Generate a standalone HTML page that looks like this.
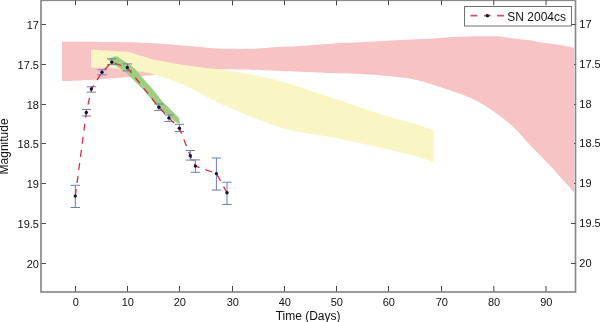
<!DOCTYPE html><html><head><meta charset="utf-8"><style>html,body{margin:0;padding:0;background:#fff;}svg{display:block;}text{font-family:"Liberation Sans",Arial,Helvetica,sans-serif;fill:#111;}</style></head><body>
<svg width="600" height="322" viewBox="0 0 600 322">
<rect width="600" height="322" fill="#fff"/>
<rect x="41.0" y="0.3" width="534.5" height="291.7" fill="none" stroke="#8a8a8a" stroke-width="1.7"/>
<path d="M75.5 291.5v-5.5M75.5 0.3v5M127.5 291.5v-5.5M127.5 0.3v5M179.5 291.5v-5.5M179.5 0.3v5M232.5 291.5v-5.5M232.5 0.3v5M284.5 291.5v-5.5M284.5 0.3v5M336.5 291.5v-5.5M336.5 0.3v5M388.5 291.5v-5.5M388.5 0.3v5M441.5 291.5v-5.5M441.5 0.3v5M493.8 291.5v-5.5M493.8 0.3v5M546.0 291.5v-5.5M546.0 0.3v5M41.5 24.5h4.5M575.5 24.5h-4.5M41.5 64.5h4.5M575.5 64.5h-4.5M41.5 104.5h4.5M575.5 104.5h-4.5M41.5 143.5h4.5M575.5 143.5h-4.5M41.5 183.5h4.5M575.5 183.5h-4.5M41.5 223.5h4.5M575.5 223.5h-4.5M41.5 263.5h4.5M575.5 263.5h-4.5" stroke="#484848" stroke-width="1" fill="none"/>
<path d="M62.00,41.80C68.33,41.82 88.67,41.83 100.00,41.90C111.33,41.97 120.83,41.97 130.00,42.20C139.17,42.43 146.67,42.80 155.00,43.30C163.33,43.80 172.50,44.58 180.00,45.20C187.50,45.82 193.33,46.43 200.00,47.00C206.67,47.57 211.67,48.30 220.00,48.60C228.33,48.90 240.00,49.07 250.00,48.80C260.00,48.53 271.67,47.47 280.00,47.00C288.33,46.53 293.33,46.43 300.00,46.00C306.67,45.57 313.33,44.90 320.00,44.40C326.67,43.90 333.33,43.37 340.00,43.00C346.67,42.63 350.00,42.70 360.00,42.20C370.00,41.70 388.33,40.58 400.00,40.00C411.67,39.42 420.83,39.20 430.00,38.70C439.17,38.20 446.67,37.40 455.00,37.00C463.33,36.60 473.00,36.42 480.00,36.30C487.00,36.18 492.83,36.13 497.00,36.30C501.17,36.47 499.50,36.63 505.00,37.30C510.50,37.97 524.17,39.47 530.00,40.30C535.83,41.13 535.00,41.50 540.00,42.30C545.00,43.10 554.33,44.17 560.00,45.10C565.67,46.03 571.67,47.43 574.00,47.90L574.00,192.20C572.50,190.53 569.33,187.00 565.00,182.20C560.67,177.40 553.67,169.38 548.00,163.40C542.33,157.42 536.67,152.28 531.00,146.30C525.33,140.32 519.67,132.90 514.00,127.50C508.33,122.10 502.67,118.02 497.00,113.90C491.33,109.78 485.62,105.95 480.00,102.80C474.38,99.65 468.85,97.27 463.30,95.00C457.75,92.73 452.25,91.08 446.70,89.20C441.15,87.32 435.57,85.37 430.00,83.70C424.43,82.03 418.85,80.32 413.30,79.20C407.75,78.08 402.25,77.65 396.70,77.00C391.15,76.35 386.95,75.83 380.00,75.30C373.05,74.77 363.33,74.18 355.00,73.80C346.67,73.42 338.33,73.30 330.00,73.00C321.67,72.70 316.67,72.48 305.00,72.00C293.33,71.52 270.83,70.53 260.00,70.10C249.17,69.67 246.67,69.55 240.00,69.40C233.33,69.25 226.67,69.18 220.00,69.20C213.33,69.22 207.50,69.03 200.00,69.50C192.50,69.97 183.33,71.03 175.00,72.00C166.67,72.97 159.17,74.33 150.00,75.30C140.83,76.27 128.33,77.13 120.00,77.80C111.67,78.47 105.67,78.90 100.00,79.30C94.33,79.70 92.33,79.90 86.00,80.20C79.67,80.50 66.00,80.95 62.00,81.10Z" fill="#f8c3c4"/>
<path d="M91.00,49.40C92.50,49.53 96.83,49.97 100.00,50.20C103.17,50.43 106.67,50.58 110.00,50.80C113.33,51.02 116.67,51.30 120.00,51.50C123.33,51.70 128.33,51.92 130.00,52.00L135.00,54.00C136.83,54.53 142.67,56.23 146.00,57.20C149.33,58.17 150.17,58.75 155.00,59.80C159.83,60.85 167.50,62.25 175.00,63.50C182.50,64.75 192.17,66.25 200.00,67.30C207.83,68.35 214.50,68.78 222.00,69.80C229.50,70.82 238.33,72.23 245.00,73.40C251.67,74.57 256.17,75.53 262.00,76.80C267.83,78.07 273.67,79.30 280.00,81.00C286.33,82.70 293.33,84.83 300.00,87.00C306.67,89.17 313.33,91.78 320.00,94.00C326.67,96.22 333.33,98.08 340.00,100.30C346.67,102.52 353.33,105.02 360.00,107.30C366.67,109.58 373.33,111.92 380.00,114.00C386.67,116.08 393.33,117.88 400.00,119.80C406.67,121.72 414.40,123.72 420.00,125.50C425.60,127.28 431.33,129.67 433.60,130.50L433.60,162.50C431.33,161.65 425.60,159.10 420.00,157.40C414.40,155.70 406.67,153.95 400.00,152.30C393.33,150.65 386.67,149.00 380.00,147.50C373.33,146.00 366.67,144.75 360.00,143.30C353.33,141.85 346.67,140.13 340.00,138.80C333.33,137.47 327.50,136.57 320.00,135.30C312.50,134.03 302.50,132.78 295.00,131.20C287.50,129.62 281.67,127.97 275.00,125.80C268.33,123.63 260.83,120.48 255.00,118.20C249.17,115.92 246.25,114.75 240.00,112.10C233.75,109.45 224.50,105.65 217.50,102.30C210.50,98.95 204.67,95.33 198.00,92.00C191.33,88.67 184.67,85.18 177.50,82.30C170.33,79.42 160.25,76.33 155.00,74.70C149.75,73.07 149.17,73.12 146.00,72.50C142.83,71.88 140.33,71.58 136.00,71.00C131.67,70.42 124.33,69.50 120.00,69.00C115.67,68.50 113.33,68.20 110.00,68.00C106.67,67.80 103.17,67.88 100.00,67.80C96.83,67.72 92.50,67.55 91.00,67.50Z" fill="#f9f5c5"/>
<polygon points="107.5,59.2 115.0,56.2 117.5,56.6 124.8,61.6 130.6,65.0 134.7,68.5 143.6,79.0 152.9,89.2 162.2,101.3 171.6,110.6 179.0,118.0 180.0,123.5 176.0,122.5 169.7,117.1 157.6,106.9 152.9,101.3 143.6,90.1 134.3,80.8 125.0,71.5 116.0,66.0 111.0,62.0" fill="#a0ce80"/>
<path d="M75.3 185.3V207.5M70.6 185.3H80.0M70.6 207.5H80.0M86.3 109.4V116.0M81.6 109.4H91.0M81.6 116.0H91.0M91.4 86.8V92.2M86.7 86.8H96.1M86.7 92.2H96.1M102.0 69.8V74.8M97.3 69.8H106.7M97.3 74.8H106.7M111.8 58.8V64.6M107.1 58.8H116.5M107.1 64.6H116.5M127.3 63.9V70.9M122.6 63.9H132.0M122.6 70.9H132.0M158.9 104.0V110.4M154.2 104.0H163.6M154.2 110.4H163.6M168.9 115.0V121.6M164.2 115.0H173.6M164.2 121.6H173.6M179.4 124.3V131.5M174.7 124.3H184.1M174.7 131.5H184.1M190.3 150.5V160.1M185.6 150.5H195.0M185.6 160.1H195.0M195.4 159.9V172.3M190.7 159.9H200.1M190.7 172.3H200.1M216.4 158.0V190.0M211.7 158.0H221.1M211.7 190.0H221.1M227.0 182.2V204.4M222.3 182.2H231.7M222.3 204.4H231.7" stroke="#6f7db5" stroke-width="1" fill="none"/>
<polyline points="75.3,196.1 86.3,112.5 91.4,88.9 102.0,72.2 111.8,62.3 127.3,67.5 158.9,107.3 168.9,117.9 179.4,128.2 190.3,155.8 195.4,166.1 216.4,173.6 227.0,192.8" fill="none" stroke="#d42a3a" stroke-width="1.25" stroke-dasharray="7 6.2"/>
<circle cx="75.3" cy="196.1" r="1.7" fill="#151530"/>
<circle cx="86.3" cy="112.5" r="1.7" fill="#151530"/>
<circle cx="91.4" cy="88.9" r="1.7" fill="#151530"/>
<circle cx="102.0" cy="72.2" r="1.7" fill="#151530"/>
<circle cx="111.8" cy="62.3" r="1.7" fill="#151530"/>
<circle cx="127.3" cy="67.5" r="1.7" fill="#151530"/>
<circle cx="158.9" cy="107.3" r="1.7" fill="#151530"/>
<circle cx="168.9" cy="117.9" r="1.7" fill="#151530"/>
<circle cx="179.4" cy="128.2" r="1.7" fill="#151530"/>
<circle cx="190.3" cy="155.8" r="1.7" fill="#151530"/>
<circle cx="195.4" cy="166.1" r="1.7" fill="#151530"/>
<circle cx="216.4" cy="173.6" r="1.7" fill="#151530"/>
<circle cx="227.0" cy="192.8" r="1.7" fill="#151530"/>
<text x="39" y="28.5" font-size="11" text-anchor="end">17</text>
<text x="579.3" y="27.7" font-size="11">17</text>
<text x="39" y="68.5" font-size="11" text-anchor="end">17.5</text>
<text x="579.3" y="67.7" font-size="11">17.5</text>
<text x="39" y="108.5" font-size="11" text-anchor="end">18</text>
<text x="579.3" y="107.7" font-size="11">18</text>
<text x="39" y="147.5" font-size="11" text-anchor="end">18.5</text>
<text x="579.3" y="146.7" font-size="11">18.5</text>
<text x="39" y="187.5" font-size="11" text-anchor="end">19</text>
<text x="579.3" y="186.7" font-size="11">19</text>
<text x="39" y="227.5" font-size="11" text-anchor="end">19.5</text>
<text x="579.3" y="226.7" font-size="11">19.5</text>
<text x="39" y="267.5" font-size="11" text-anchor="end">20</text>
<text x="579.3" y="266.7" font-size="11">20</text>
<text x="75.8" y="305.5" font-size="11" text-anchor="middle">0</text>
<text x="127.8" y="305.5" font-size="11" text-anchor="middle">10</text>
<text x="179.8" y="305.5" font-size="11" text-anchor="middle">20</text>
<text x="232.8" y="305.5" font-size="11" text-anchor="middle">30</text>
<text x="284.8" y="305.5" font-size="11" text-anchor="middle">40</text>
<text x="336.8" y="305.5" font-size="11" text-anchor="middle">50</text>
<text x="388.8" y="305.5" font-size="11" text-anchor="middle">60</text>
<text x="441.8" y="305.5" font-size="11" text-anchor="middle">70</text>
<text x="494.1" y="305.5" font-size="11" text-anchor="middle">80</text>
<text x="546.3" y="305.5" font-size="11" text-anchor="middle">90</text>
<text x="308.1" y="319.5" font-size="12" text-anchor="middle">Time (Days)</text>
<text transform="translate(8.1,146.4) rotate(-90)" font-size="12" text-anchor="middle">Magnitude</text>
<rect x="464.5" y="6.5" width="107" height="19.5" fill="#fff" stroke="#707070" stroke-width="1"/>
<path d="M470.5 15.7H477.3M484 15.7H490.7M497 15.7H504" stroke="#cc5562" stroke-width="1.8"/>
<circle cx="487.4" cy="15.7" r="1.7" fill="#151530"/>
<text x="507.3" y="20.6" font-size="12">SN 2004cs</text>
</svg></body></html>
